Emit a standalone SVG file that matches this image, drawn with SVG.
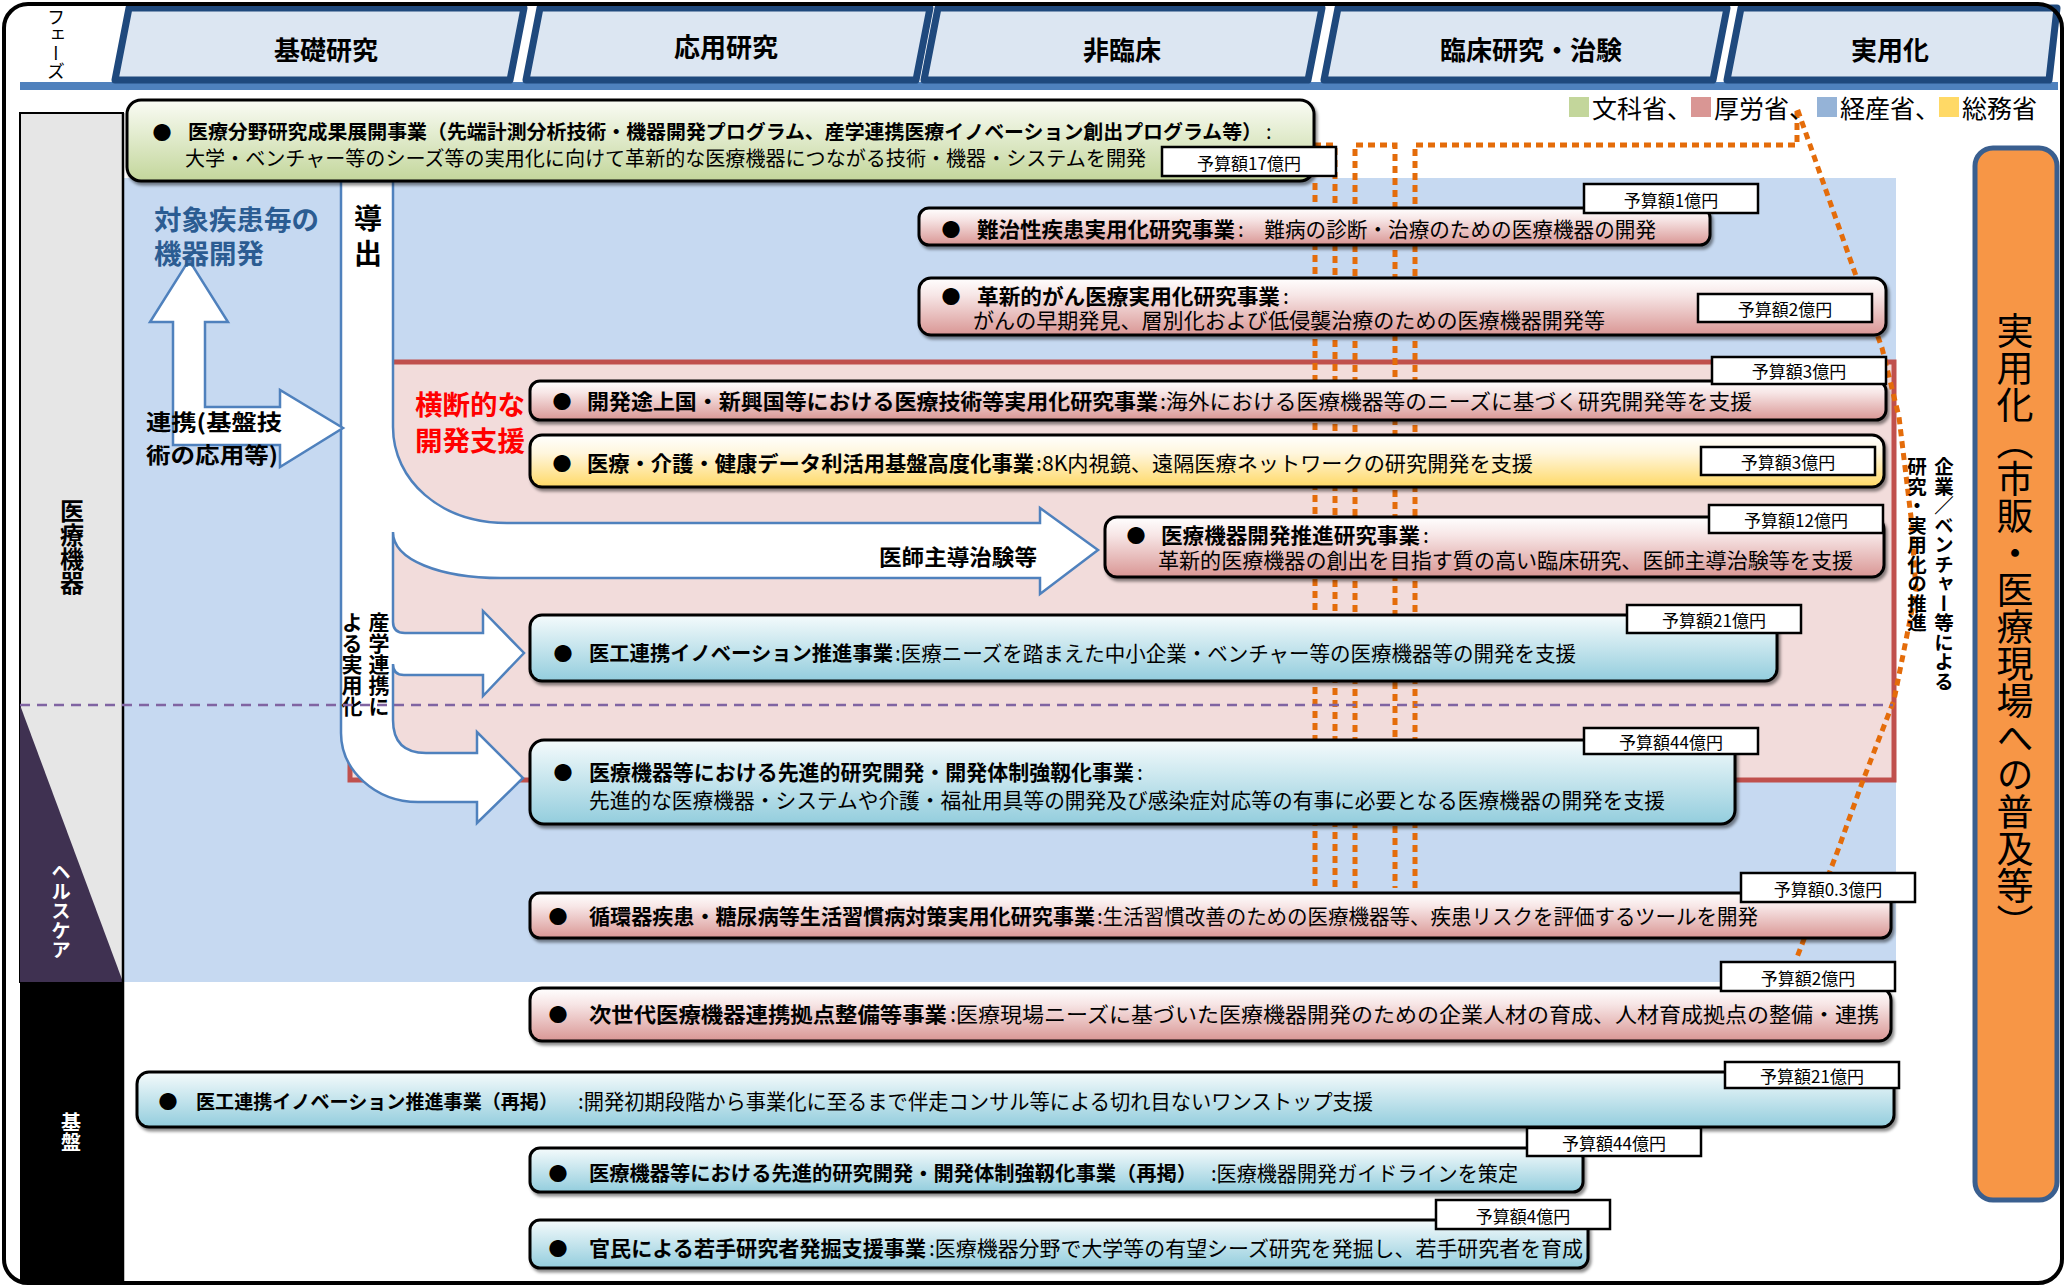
<svg xmlns="http://www.w3.org/2000/svg" width="2067" height="1287" viewBox="0 0 2067 1287">
<defs>
<linearGradient id="gP" x1="0" y1="0" x2="0" y2="1"><stop offset="0" stop-color="#FFFFFF"/><stop offset="0.3" stop-color="#F7E6E6"/><stop offset="1" stop-color="#D99694"/></linearGradient>
<linearGradient id="gB" x1="0" y1="0" x2="0" y2="1"><stop offset="0" stop-color="#F5FBFC"/><stop offset="1" stop-color="#93CDDD"/></linearGradient>
<linearGradient id="gY" x1="0" y1="0" x2="0" y2="1"><stop offset="0" stop-color="#FFFFFF"/><stop offset="0.35" stop-color="#FFF6DD"/><stop offset="1" stop-color="#FFD966"/></linearGradient>
<linearGradient id="gG" x1="0" y1="0" x2="0" y2="1"><stop offset="0" stop-color="#FAFCF5"/><stop offset="1" stop-color="#C3D69B"/></linearGradient>
<filter id="sh" x="-3%" y="-20%" width="106%" height="150%"><feDropShadow dx="2" dy="3" stdDeviation="1.5" flood-color="#000" flood-opacity="0.45"/></filter>
<style>
text{font-family:"Noto Sans CJK JP","Noto Sans",sans-serif;fill:#000}
.c{dominant-baseline:central}
.m{text-anchor:middle}
.b{font-weight:700}
.f21{font-size:21px}
.f20{font-size:20px}
.bul{font-size:19px;text-anchor:middle;dominant-baseline:central}
.v{writing-mode:vertical-rl}
.box{stroke:#000;stroke-width:3}
.pk{fill:url(#gP)}
.bl{fill:url(#gB)}
.yl{fill:url(#gY)}
.gr{fill:url(#gG)}
.lbl{fill:#fff;stroke:#000;stroke-width:2.5}
.lt{font-size:17px;text-anchor:middle;dominant-baseline:central}
.tab{fill:#DCE6F2;stroke:#1F497D;stroke-width:7;stroke-linejoin:round}
.tt{font-size:26px;font-weight:700;text-anchor:middle;dominant-baseline:central}
.dot{fill:none;stroke:#E46C0A;stroke-width:5;stroke-dasharray:7 5}
.arw{fill:#fff;stroke:#4F81BD;stroke-width:2.5;fill-rule:evenodd}
</style>
</defs>

<rect x="0" y="0" width="2067" height="1287" fill="#fff"/>

<g id="background">
<rect x="123" y="178" width="1773" height="804" fill="#C6D9F1"/>
<rect x="350" y="362" width="1544" height="418" fill="#F2DCDB" stroke="#C0504D" stroke-width="5"/>
<rect x="20" y="82" width="2038" height="8" fill="#4F81BD"/>
</g>

<g id="left-column">
<rect x="20" y="113" width="103" height="869" fill="#E6E6E6" stroke="#000" stroke-width="2"/>
<polygon points="20,705 123,982 20,982" fill="#3F3151"/>
<rect x="20" y="982" width="103" height="301" fill="#000"/>
<line x1="123" y1="113" x2="123" y2="1283" stroke="#000" stroke-width="2.5"/>
<text x="72" y="499" class="v b" font-size="24">医療機器</text>
<text x="61" y="862" class="v b" font-size="19.5" style="fill:#fff">ヘルスケア</text>
<text x="71" y="1112" class="v b" font-size="20" style="fill:#fff">基盤</text>
</g>

<g id="connectors">
<path class="arw" d="M341,181 L393,181 L393,427 C393,480 440,523 507,523 L1040,523 L1040,508 L1098,550 L1040,594 L1040,578 L501,578 C440,578 393,560 393,532 L393,622 Q393,633 405,633 L483,633 L483,611 L524,653 L483,696 L483,675 L404,675 Q393,675 393,664 L393,720 Q393,753 426,753 L477,753 L477,732 L523,778 L477,823 L477,802 L418,802 C375,802 341,770 341,733 Z"/>
<path class="arw" d="M173,445 L173,322 L150,322 L189,260 L228,322 L205,322 L205,407 L280,407 L280,390 L343,428 L280,467 L280,445 Z"/>
<path class="dot" d="M1314,145 H1335 V888"/>
<path class="dot" d="M1315,183 V888"/>
<path class="dot" d="M1355,888 V145 H1395 V888"/>
<path class="dot" d="M1415,888 V145 H1797 V108 L1855,273 L1882,348 L1899,417 L1911,517 L1916,590 L1894,700 L1862,783 L1838,850 L1796,960"/>
<text x="154" y="218" class="c b" font-size="27" style="fill:#2B5C92" textLength="165" lengthAdjust="spacingAndGlyphs">対象疾患毎の</text>
<text x="154" y="252" class="c b" font-size="27" style="fill:#2B5C92" textLength="110" lengthAdjust="spacingAndGlyphs">機器開発</text>
<text x="146" y="420" class="c b" font-size="22" textLength="136" lengthAdjust="spacingAndGlyphs">連携(基盤技</text>
<text x="146" y="453" class="c b" font-size="22" textLength="132" lengthAdjust="spacingAndGlyphs">術の応用等)</text>
<text x="368" y="217" class="c m b" font-size="28">導</text>
<text x="368" y="252" class="c m b" font-size="28">出</text>
<text x="415" y="403" class="c b" font-size="27" style="fill:#FF0000" textLength="110" lengthAdjust="spacingAndGlyphs">横断的な</text>
<text x="415" y="439" class="c b" font-size="27" style="fill:#FF0000" textLength="110" lengthAdjust="spacingAndGlyphs">開発支援</text>
<text x="879" y="555" class="c b" font-size="22" textLength="158" lengthAdjust="spacingAndGlyphs">医師主導治験等</text>
<text x="379" y="612" class="v b" font-size="21">産学連携に</text>
<text x="352" y="612" class="v b" font-size="21">よる実用化</text>
</g>

<line id="divider" x1="20" y1="705" x2="1893" y2="705" stroke="#8064A2" stroke-width="2.5" stroke-dasharray="10 7"/>

<g id="phase-tabs">
<text x="56" y="8" class="v" font-size="18">フェーズ</text>
<path class="tab" d="M129,8 L524,8 L510,80 L115,80 Z"/>
<path class="tab" d="M540,8 L930,8 L916,80 L526,80 Z"/>
<path class="tab" d="M938,8 L1322,8 L1308,80 L924,80 Z"/>
<path class="tab" d="M1338,8 L1727,8 L1713,80 L1324,80 Z"/>
<path class="tab" d="M1741,8 L2057,8 L2049,80 L1727,80 Z"/>
<text x="326" y="48" class="tt">基礎研究</text>
<text x="726" y="45" class="tt">応用研究</text>
<text x="1122" y="48" class="tt">非臨床</text>
<text x="1531" y="48" class="tt">臨床研究・治験</text>
<text x="1890" y="48" class="tt">実用化</text>
</g>

<g id="legend">
<rect x="1569" y="97" width="20" height="20" fill="#C3D69B"/>
<text x="1592" y="107" class="c" font-size="25">文科省、</text>
<rect x="1691" y="97" width="20" height="20" fill="#D99694"/>
<text x="1714" y="107" class="c" font-size="25">厚労省、</text>
<rect x="1817" y="97" width="20" height="20" fill="#95B3D7"/>
<text x="1840" y="107" class="c" font-size="25">経産省、</text>
<rect x="1939" y="97" width="20" height="20" fill="#FFD966"/>
<text x="1962" y="107" class="c" font-size="25">総務省</text>
</g>

<g id="n-kenkyu-seika">
<rect x="127" y="100" width="1187" height="81" rx="14" class="box gr" filter="url(#sh)"/>
<text x="162" y="131" class="bul">●</text>
<text x="188" y="130" class="c b" font-size="19.8" textLength="1074" lengthAdjust="spacingAndGlyphs">医療分野研究成果展開事業（先端計測分析技術・機器開発プログラム、産学連携医療イノベーション創出プログラム等）</text>
<text x="1266" y="130" class="c f20">:</text>
<text x="185" y="157" class="c f20" textLength="961" lengthAdjust="spacingAndGlyphs">大学・ベンチャー等のシーズ等の実用化に向けて革新的な医療機器につながる技術・機器・システムを開発</text>
<rect x="1162" y="147" width="174" height="29" class="lbl"/>
<text x="1249" y="162" class="lt">予算額17億円</text>
</g>

<g id="n-nanchisei">
<rect x="919" y="208" width="791" height="37" rx="10" class="box pk" filter="url(#sh)"/>
<text x="951" y="228" class="bul">●</text>
<text x="977" y="228" class="c b f21" textLength="258" lengthAdjust="spacingAndGlyphs">難治性疾患実用化研究事業</text>
<text x="1238" y="228" class="c f21" textLength="418" lengthAdjust="spacingAndGlyphs">:　難病の診断・治療のための医療機器の開発</text>
<rect x="1584" y="184" width="174" height="29" class="lbl"/>
<text x="1671" y="199" class="lt">予算額1億円</text>
</g>

<g id="n-gan">
<rect x="919" y="278" width="967" height="57" rx="12" class="box pk" filter="url(#sh)"/>
<text x="951" y="295" class="bul">●</text>
<text x="977" y="295" class="c b f21" textLength="303" lengthAdjust="spacingAndGlyphs">革新的がん医療実用化研究事業</text>
<text x="1283" y="295" class="c f21">:</text>
<text x="973" y="319" class="c f21" textLength="632" lengthAdjust="spacingAndGlyphs">がんの早期発見、層別化および低侵襲治療のための医療機器開発等</text>
<rect x="1698" y="294" width="174" height="28" class="lbl"/>
<text x="1785" y="308" class="lt">予算額2億円</text>
</g>

<g id="n-tojoukoku">
<rect x="530" y="381" width="1356" height="39" rx="10" class="box pk" filter="url(#sh)"/>
<text x="562" y="400" class="bul">●</text>
<text x="587" y="400" class="c b f21" textLength="571" lengthAdjust="spacingAndGlyphs">開発途上国・新興国等における医療技術等実用化研究事業</text>
<text x="1160" y="400" class="c f21" textLength="592" lengthAdjust="spacingAndGlyphs">:海外における医療機器等のニーズに基づく研究開発等を支援</text>
<rect x="1712" y="357" width="174" height="27" class="lbl"/>
<text x="1799" y="370" class="lt">予算額3億円</text>
</g>

<g id="n-data">
<rect x="530" y="435" width="1354" height="52" rx="12" class="box yl" filter="url(#sh)"/>
<text x="562" y="462" class="bul">●</text>
<text x="587" y="462" class="c b f21" textLength="447" lengthAdjust="spacingAndGlyphs">医療・介護・健康データ利活用基盤高度化事業</text>
<text x="1036" y="462" class="c f21" textLength="497" lengthAdjust="spacingAndGlyphs">:8K内視鏡、遠隔医療ネットワークの研究開発を支援</text>
<rect x="1701" y="447" width="174" height="28" class="lbl"/>
<text x="1788" y="461" class="lt">予算額3億円</text>
</g>

<g id="n-suishin">
<rect x="1105" y="517" width="779" height="60" rx="12" class="box pk" filter="url(#sh)"/>
<text x="1136" y="534" class="bul">●</text>
<text x="1161" y="534" class="c b f21" textLength="259" lengthAdjust="spacingAndGlyphs">医療機器開発推進研究事業</text>
<text x="1423" y="534" class="c f21">:</text>
<text x="1158" y="559" class="c f21" textLength="695" lengthAdjust="spacingAndGlyphs">革新的医療機器の創出を目指す質の高い臨床研究、医師主導治験等を支援</text>
<rect x="1709" y="505" width="174" height="28" class="lbl"/>
<text x="1796" y="519" class="lt">予算額12億円</text>
</g>

<g id="n-ikou">
<rect x="530" y="615" width="1247" height="66" rx="12" class="box bl" filter="url(#sh)"/>
<text x="563" y="652" class="bul">●</text>
<text x="589" y="652" class="c b" font-size="20.2" textLength="304" lengthAdjust="spacingAndGlyphs">医工連携イノベーション推進事業</text>
<text x="895" y="652" class="c f21" textLength="681" lengthAdjust="spacingAndGlyphs">:医療ニーズを踏まえた中小企業・ベンチャー等の医療機器等の開発を支援</text>
<rect x="1627" y="605" width="174" height="28" class="lbl"/>
<text x="1714" y="619" class="lt">予算額21億円</text>
</g>

<g id="n-senshin">
<rect x="530" y="740" width="1205" height="84" rx="14" class="box bl" filter="url(#sh)"/>
<text x="563" y="771" class="bul">●</text>
<text x="589" y="771" class="c b" font-size="20.9" textLength="545" lengthAdjust="spacingAndGlyphs">医療機器等における先進的研究開発・開発体制強靱化事業</text>
<text x="1137" y="771" class="c f21">:</text>
<text x="589" y="799" class="c f21" textLength="1076" lengthAdjust="spacingAndGlyphs">先進的な医療機器・システムや介護・福祉用具等の開発及び感染症対応等の有事に必要となる医療機器の開発を支援</text>
<rect x="1584" y="728" width="174" height="26" class="lbl"/>
<text x="1671" y="741" class="lt">予算額44億円</text>
</g>

<g id="n-junkanki">
<rect x="530" y="893" width="1361" height="45" rx="10" class="box pk" filter="url(#sh)"/>
<text x="558" y="915" class="bul">●</text>
<text x="589" y="915" class="c b f21" textLength="506" lengthAdjust="spacingAndGlyphs">循環器疾患・糖尿病等生活習慣病対策実用化研究事業</text>
<text x="1097" y="915" class="c f21" textLength="661" lengthAdjust="spacingAndGlyphs">:生活習慣改善のための医療機器等、疾患リスクを評価するツールを開発</text>
<rect x="1741" y="873" width="174" height="29" class="lbl"/>
<text x="1828" y="888" class="lt">予算額0.3億円</text>
</g>

<g id="n-jisedai">
<rect x="530" y="988" width="1361" height="53" rx="12" class="box pk" filter="url(#sh)"/>
<text x="558" y="1013" class="bul">●</text>
<text x="589" y="1013" class="c b f21" textLength="358" lengthAdjust="spacingAndGlyphs">次世代医療機器連携拠点整備等事業</text>
<text x="950" y="1013" class="c f21" textLength="929" lengthAdjust="spacingAndGlyphs">:医療現場ニーズに基づいた医療機器開発のための企業人材の育成、人材育成拠点の整備・連携</text>
<rect x="1721" y="962" width="174" height="29" class="lbl"/>
<text x="1808" y="977" class="lt">予算額2億円</text>
</g>

<g id="n-ikou-saikei">
<rect x="137" y="1072" width="1757" height="55" rx="12" class="box bl" filter="url(#sh)"/>
<text x="168" y="1100" class="bul">●</text>
<text x="196" y="1100" class="c b" font-size="19" textLength="362" lengthAdjust="spacingAndGlyphs">医工連携イノベーション推進事業（再掲）</text>
<text x="578" y="1100" class="c f21" textLength="795" lengthAdjust="spacingAndGlyphs">:開発初期段階から事業化に至るまで伴走コンサル等による切れ目ないワンストップ支援</text>
<rect x="1725" y="1062" width="174" height="26" class="lbl"/>
<text x="1812" y="1075" class="lt">予算額21億円</text>
</g>

<g id="n-senshin-saikei">
<rect x="530" y="1148" width="1053" height="44" rx="10" class="box bl" filter="url(#sh)"/>
<text x="558" y="1172" class="bul">●</text>
<text x="589" y="1172" class="c b" font-size="20.2" textLength="608" lengthAdjust="spacingAndGlyphs">医療機器等における先進的研究開発・開発体制強靱化事業（再掲）</text>
<text x="1211" y="1172" class="c f21" textLength="307" lengthAdjust="spacingAndGlyphs">:医療機器開発ガイドラインを策定</text>
<rect x="1527" y="1128" width="174" height="28" class="lbl"/>
<text x="1614" y="1142" class="lt">予算額44億円</text>
</g>

<g id="n-wakate">
<rect x="530" y="1220" width="1058" height="48" rx="10" class="box bl" filter="url(#sh)"/>
<text x="558" y="1247" class="bul">●</text>
<text x="589" y="1247" class="c b f21" textLength="337" lengthAdjust="spacingAndGlyphs">官民による若手研究者発掘支援事業</text>
<text x="929" y="1247" class="c f21" textLength="654" lengthAdjust="spacingAndGlyphs">:医療機器分野で大学等の有望シーズ研究を発掘し、若手研究者を育成</text>
<rect x="1436" y="1200" width="174" height="29" class="lbl"/>
<text x="1523" y="1215" class="lt">予算額4億円</text>
</g>

<g id="n-jitsuyouka">
<rect x="1975" y="148" width="82" height="1052" rx="18" fill="#F79646" stroke="#3A5F8F" stroke-width="5"/>
<text x="2015" y="312" class="v" font-size="37">実用化（市販・医療現場への普及等）</text>
</g>

<g id="side-note">
<text x="1944" y="457" class="v b" font-size="19.5">企業／ベンチャー等による</text>
<text x="1917" y="457" class="v b" font-size="19.5">研究・実用化の推進</text>
</g>

<rect x="4" y="4" width="2058" height="1279" rx="24" fill="none" stroke="#000" stroke-width="4"/>
</svg>
